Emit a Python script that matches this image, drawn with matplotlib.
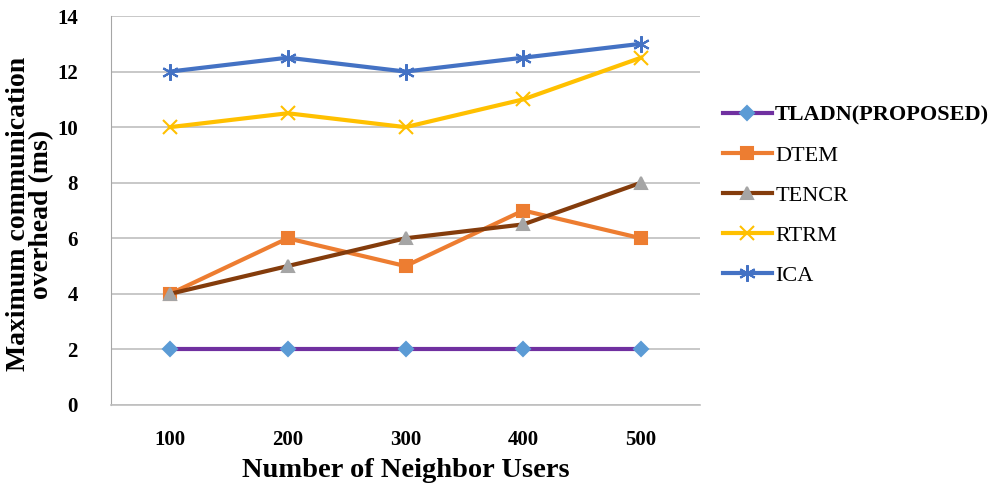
import matplotlib
matplotlib.use("Agg")
import matplotlib.pyplot as plt

users = ["100", "200", "300", "400", "500"]
tladn = [2, 2, 2, 2, 2]
dtem = [4, 6, 5, 7, 6]
tencr = [4, 5, 6, 6.5, 8]
rtrm = [10, 10.5, 10, 11, 12.5]
ica = [12, 12.5, 12, 12.5, 13]

plt.rcParams["font.family"] = ["Liberation Serif", "DejaVu Serif"]

fig = plt.figure(figsize=(10.06, 4.87), dpi=100)
ax = fig.add_axes([111 / 1006, 1 - 405 / 487, (700 - 111) / 1006, (405 - 16) / 487])

x = list(range(1, len(users) + 1))

series = [
    ("TLADN(PROPOSED)", tladn, "#7030A0", "D", "#5B9BD5", 7, True),
    ("DTEM", dtem, "#ED7D31", "s", "#ED7D31", 9, False),
    ("TENCR", tencr, "#843C0C", "^", "#A5A5A5", 9, False),
    ("RTRM", rtrm, "#FFC000", "x", "#FFC000", 10, False),
    ("ICA", ica, "#4472C4", (6, 2, 0), "#4472C4", 12, False),
]

handles = []
for name, vals, lc, mk, mc, ms, _ in series:
    (h,) = ax.plot(x, vals, color=lc, lw=3, marker=mk, markersize=ms,
                   markerfacecolor=mc, markeredgecolor=mc, markeredgewidth=1.5,
                   label=name, zorder=3)
    handles.append(h)

ax.set_xlim(0.5, 5.5)
ax.set_ylim(0, 14)
ax.set_yticks(range(0, 15, 2))
ax.set_xticks(x)
ax.set_xticklabels(users)
ax.grid(axis="y", color="#BFBFBF", lw=1.2)
ax.set_axisbelow(True)
for s in ("top", "right"):
    ax.spines[s].set_visible(False)
ax.spines["left"].set_color("#A6A6A6")
ax.spines["bottom"].set_color("#BFBFBF")
ax.spines["bottom"].set_linewidth(1.2)
ax.tick_params(axis="both", length=0, labelsize=15)
for t in ax.get_xticklabels() + ax.get_yticklabels():
    t.set_fontweight("bold")
ax.tick_params(axis="x", pad=18)
ax.tick_params(axis="y", pad=24)

ax.set_xlabel("Number of Neighbor Users", fontsize=20.5, fontweight="bold", labelpad=6)
ax.set_ylabel("Maximum communication\noverhead (ms)", fontsize=20,
              fontweight="bold", linespacing=0.88, va="center", ha="center")
ax.yaxis.set_label_coords((30 - 111) / 589, 0.49)

leg = fig.legend(handles=handles, loc="upper left", bbox_to_anchor=(714 / 1006, 1 - 96 / 487),
                 frameon=False, fontsize=16, handlelength=2.2, handletextpad=0.15,
                 labelspacing=0.88, borderaxespad=0)
for t, s in zip(leg.get_texts(), series):
    if s[6]:
        t.set_fontweight("bold")

fig.savefig("out.png", dpi=100)
